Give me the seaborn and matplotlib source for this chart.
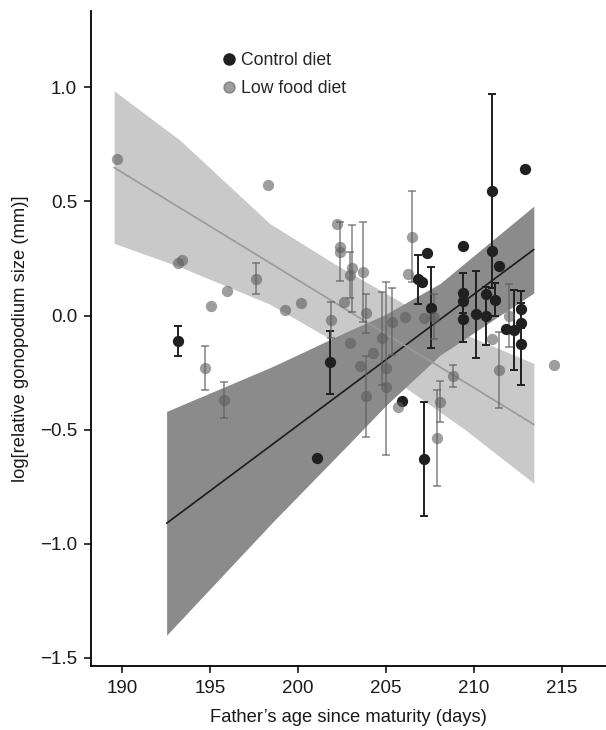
import matplotlib
matplotlib.use("Agg")
import matplotlib.pyplot as plt
from matplotlib.lines import Line2D
import numpy as np
import pandas as pd
import seaborn as sns

# ---------------- data ----------------
ctrl_x = [193.2, 201.1, 201.8, 205.9, 207.16, 207.35, 206.8, 207.03, 207.56, 209.4,
          209.4, 209.4, 209.4, 210.1, 210.7, 210.7, 211.04, 211.04, 211.4, 211.2,
          211.8, 212.9, 212.7, 212.7, 212.7, 212.3]
ctrl_y = [-0.112, -0.623, -0.205, -0.373, -0.63, 0.272, 0.158, 0.148, 0.035, 0.304,
          0.10, 0.063, -0.016, 0.005, 0.094, -0.003, 0.545, 0.282, 0.219, 0.07,
          -0.057, 0.64, 0.027, -0.032, -0.125, -0.064]
ctrl_err = [0.066, 0, 0.138, 0, 0.25, 0, 0.107, 0, 0.177, 0,
            0.087, 0, 0.1, 0.19, 0, 0.126, 0.425, 0, 0, 0.073,
            0, 0, 0.08, 0, 0.18, 0.175]

low_x = [189.7, 193.2, 193.4, 194.7, 195.04, 195.8, 195.95, 197.6, 198.3, 199.26,
         200.17, 201.86, 202.2, 202.4, 202.4, 202.6, 202.95, 203.1, 202.95, 203.5,
         203.7, 203.86, 203.86, 204.24, 204.8, 205.0, 205.0, 205.32, 205.7, 206.08,
         206.27, 206.46, 207.16, 207.73, 207.9, 208.07, 208.83, 211.04, 211.4, 212.0,
         214.55]
low_y = [0.685, 0.23, 0.245, -0.229, 0.041, -0.37, 0.107, 0.162, 0.57, 0.024,
         0.053, -0.02, 0.40, 0.30, 0.28, 0.06, 0.177, 0.206, -0.12, -0.22,
         0.19, 0.009, -0.353, -0.163, -0.10, -0.232, -0.312, -0.027, -0.40, -0.005,
         0.18, 0.345, -0.01, -0.005, -0.538, -0.378, -0.265, -0.105, -0.239, 0.0,
         -0.217]
low_err = [0, 0, 0, 0.096, 0, 0.08, 0, 0.067, 0, 0,
           0, 0.08, 0, 0, 0.13, 0, 0.10, 0.19, 0, 0,
           0.22, 0.085, 0.177, 0, 0.204, 0.38, 0, 0.146, 0, 0,
           0, 0.2, 0, 0.1, 0.21, 0.09, 0.047, 0, 0.168, 0.14,
           0]

# fitted lines and confidence bands
ctrl_band_x = [192.54, 198.6, 202.8, 205.0, 208.07, 213.4]
ctrl_band_lo = [-1.40, -0.902, -0.57, -0.394, -0.174, 0.099]
ctrl_band_hi = [-0.42, -0.222, -0.07, 0.006, 0.14, 0.479]
ctrl_fit_x = [192.54, 213.4]
ctrl_fit_y = [-0.91, 0.289]

low_band_x = [189.56, 193.3, 198.4, 202.0, 206.0, 209.5, 213.4]
low_band_lo = [0.316, 0.213, 0.05, -0.11, -0.31, -0.50, -0.735]
low_band_hi = [0.984, 0.768, 0.403, 0.23, 0.052, -0.083, -0.21]
low_fit_x = [189.56, 213.4]
low_fit_y = [0.648, -0.477]

groups = ["Control diet", "Low food diet"]
x_ticks = [190, 195, 200, 205, 210, 215]
y_ticks = [-1.5, -1.0, -0.5, 0.0, 0.5, 1.0]

# ---------------- style ----------------
sns.set_theme(style="ticks")
plt.rcParams["font.family"] = ["Liberation Sans", "DejaVu Sans"]

BLACK = "#202020"
GRAY = "#5d5d5d"
GRAY_ALPHA = 0.6

fig = plt.figure(figsize=(6.06, 7.30), dpi=100)
ax = fig.add_axes([0.150, 0.0877, 0.85, 0.897])

# bands
ax.fill_between(low_band_x, low_band_lo, low_band_hi, color="#c9c9c9", lw=0, zorder=1)
ax.fill_between(ctrl_band_x, ctrl_band_lo, ctrl_band_hi, color="#8b8b8b", lw=0, zorder=2)

# fit lines
fit_df = pd.DataFrame({
    "x": ctrl_fit_x + low_fit_x,
    "y": ctrl_fit_y + low_fit_y,
    "group": [groups[0]] * 2 + [groups[1]] * 2,
})
sns.lineplot(data=fit_df, x="x", y="y", hue="group",
             palette={groups[0]: "#1c1c1c", groups[1]: "#9a9a9a"},
             lw=1.2, legend=False, ax=ax, zorder=3)

# error bars
cx, cy, ce = np.array(ctrl_x), np.array(ctrl_y), np.array(ctrl_err)
m = ce > 0
ax.errorbar(cx[m], cy[m], yerr=ce[m], fmt="none", ecolor=BLACK, elinewidth=1.4,
            capsize=2.6, capthick=1.4, zorder=4)
lx, ly, le = np.array(low_x), np.array(low_y), np.array(low_err)
m = le > 0
ax.errorbar(lx[m], ly[m], yerr=le[m], fmt="none", ecolor=GRAY, alpha=GRAY_ALPHA,
            elinewidth=1.4, capsize=2.6, capthick=1.4, zorder=5)

# points
pts = pd.DataFrame({
    "x": ctrl_x + low_x,
    "y": ctrl_y + low_y,
    "group": [groups[0]] * len(ctrl_x) + [groups[1]] * len(low_x),
})
sns.scatterplot(data=pts[pts.group == groups[0]], x="x", y="y", color=BLACK,
                s=66, linewidth=0, legend=False, ax=ax, zorder=6)
sns.scatterplot(data=pts[pts.group == groups[1]], x="x", y="y", color=GRAY,
                alpha=GRAY_ALPHA, s=66, linewidth=0, legend=False, ax=ax, zorder=7)

# axes
ax.set_xlim(188.24, 217.5)
ax.set_ylim(-1.535, 1.333)
ax.set_xticks(x_ticks)
ax.set_yticks(y_ticks)
ax.set_yticklabels([f"{v:.1f}".replace("-", "\u2212") for v in y_ticks])
sns.despine(ax=ax)
for s in ["left", "bottom"]:
    ax.spines[s].set_linewidth(1.3)
    ax.spines[s].set_color("black")
ax.tick_params(axis="both", length=5, width=1.1, color="black", labelsize=13.5,
               labelcolor="#1a1a1a", pad=5)
ax.set_xlabel("Father\u2019s age since maturity (days)", fontsize=13.2, color="#1a1a1a", labelpad=9)
ax.set_ylabel("log[relative gonopodium size (mm)]", fontsize=13.2, color="#1a1a1a", labelpad=8)

handles = [Line2D([], [], ls="", marker="o", markersize=8, color=BLACK),
           Line2D([], [], ls="", marker="o", markersize=8, color=GRAY, alpha=GRAY_ALPHA)]
ax.legend(handles, groups, loc="upper left", bbox_to_anchor=(0.254, 0.937),
          frameon=False, fontsize=12.7, handlelength=0.8, handletextpad=0.3,
          labelspacing=0.59, borderpad=0.0, borderaxespad=0.0)

fig.savefig("out.png", dpi=100)
